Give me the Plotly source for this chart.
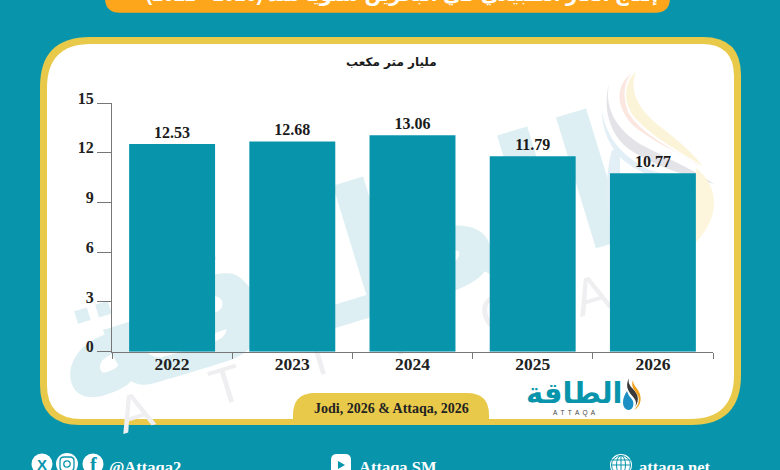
import plotly.graph_objects as go

years = ["2022", "2023", "2024", "2025", "2026"]
values = [12.53, 12.68, 13.06, 11.79, 10.77]
y_ticks = [0, 3, 6, 9, 12, 15]
unit_label = "مليار متر مكعب"
header_text = "إنتاج الغاز الطبيعي في البحرين سنويًا منذ (2026 - 2022)"
source_text = "Jodi, 2026 & Attaqa, 2026"
logo_ar = "الطاقة"
logo_en = "A  T  T  A  Q  A"
wm_letters = ["A", "T", "T", "A", "Q", "A"]
footer_handles = ["@Attaqa2", "Attaqa SM", "attaqa.net"]

TEAL = "#0895AC"
YELLOW = "#E8C94A"
ORANGE = "#FDA61C"
W, H = 780, 470
SERIF = "Liberation Serif"
ARAB = "DejaVu Sans"


def px(x):
    return x / W


def py(y):
    return 1 - y / H


def path(*cmds):
    out = []
    for c in cmds:
        if isinstance(c, str):
            out.append(c)
        else:
            out.append(f"{px(c[0]):.5f},{py(c[1]):.5f}")
    return " ".join(out)


def rrect(x0, y0, x1, y1, tl, tr, br, bl):
    return path("M", (x0 + tl, y0), "L", (x1 - tr, y0), "Q", (x1, y0), (x1, y0 + tr),
                "L", (x1, y1 - br), "Q", (x1, y1), (x1 - br, y1), "L", (x0 + bl, y1),
                "Q", (x0, y1), (x0, y1 - bl), "L", (x0, y0 + tl), "Q", (x0, y0), (x0 + tl, y0), "Z")


def pshape(d, fill, layer="below", line=None, lw=0):
    return dict(type="path", xref="paper", yref="paper", path=d, fillcolor=fill, layer=layer,
                line=dict(color=line or "rgba(0,0,0,0)", width=lw))


def circle(cx, cy, r, fill, line=None, lw=0, layer="above", rx=None):
    rx = r if rx is None else rx
    return dict(type="circle", xref="paper", yref="paper", x0=px(cx - rx), x1=px(cx + rx),
                y0=py(cy + r), y1=py(cy - r), fillcolor=fill, layer=layer,
                line=dict(color=line or "rgba(0,0,0,0)", width=lw))


def label_shape(cx, cy, text, size, color, angle, family, weight=400, half=40, layer="below", pos="middle center"):
    return dict(type="rect", xref="paper", yref="paper", x0=px(cx - half), x1=px(cx + half),
                y0=py(cy + half), y1=py(cy - half), layer=layer, fillcolor="rgba(0,0,0,0)",
                line=dict(width=0),
                label=dict(text=text, textangle=angle, textposition=pos, padding=0,
                           font=dict(size=size, color=color, family=family, weight=weight)))


def edge_text(x, y, text, size, color, family, pos="middle left"):
    cx = x + 60 if pos == "middle left" else x
    return label_shape(cx, y, text, size, color, 0, family, 700, 60, "above", pos)


def note(x, y, text, size, color, family, weight=700, anchor="center"):
    return dict(x=px(x), y=py(y), xref="paper", yref="paper", text=text, showarrow=False,
                xanchor=anchor, yanchor="middle",
                font=dict(size=size, color=color, family=family, weight=weight))


shapes = [
    pshape(rrect(105, -20, 670, 12.7, 0, 0, 15, 15), ORANGE),
    pshape(rrect(40, 37, 741, 425, 50, 38, 50, 40), YELLOW),
    pshape(rrect(47, 44, 734, 419, 44, 32, 44, 34), "#FFFFFF"),
    pshape(rrect(293, 393, 489, 422, 22, 22, 0, 0), YELLOW),
]

# watermark behind the bars
shapes.append(label_shape(332, 250, logo_ar, 180, "#DDEFF3", -17, ARAB, 700, 110))
for (lx, ly), ch in zip([(133, 407), (225, 380), (317, 352), (408, 328), (499, 307), (590, 290)], wm_letters):
    shapes.append(label_shape(lx, ly, ch, 52, "#EFEFF2", -17, "Liberation Sans"))

# pale flame behind the bars
shapes += [
    pshape(path("M", (636, 72), "C", (628, 92), (640, 112), (662, 128), "C", (680, 142), (696, 156), (702, 166),
                "C", (682, 152), (655, 140), (635, 118), "C", (622, 102), (624, 82), (636, 72), "Z"), "#FCF4D8"),
    pshape(path("M", (632, 73), "C", (612, 88), (618, 112), (636, 128), "C", (660, 146), (685, 155), (702, 168),
                "C", (675, 150), (640, 134), (628, 112), "C", (622, 95), (624, 82), (632, 73), "Z"), "#FBE6E0"),
    pshape(path("M", (609, 84), "C", (604, 110), (618, 130), (640, 144), "C", (670, 160), (695, 170), (714, 184),
                "C", (690, 176), (650, 166), (625, 146), "C", (606, 128), (604, 102), (609, 84), "Z"), "#E3E3E8"),
    pshape(path("M", (602, 110), "C", (606, 140), (625, 158), (650, 170), "C", (675, 178), (695, 180), (708, 186),
                "C", (680, 186), (640, 178), (618, 155), "C", (606, 140), (602, 125), (602, 110), "Z"), "#E3EFF6"),
    pshape(path("M", (612, 150), "C", (604, 180), (606, 210), (612, 230), "L", (620, 230), "L", (620, 150), "Z"), "#E3EFF6"),
    pshape(path("M", (696, 168), "C", (718, 185), (722, 215), (696, 242), "Z"), "#FDF6DC"),
]

# small logo flame
shapes += [
    pshape(path("M", (629, 378), "C", (624, 388), (630, 393), (634, 398), "C", (637, 402), (636, 405), (635, 407),
                "C", (640, 400), (638, 394), (633, 389), "C", (629, 385), (628, 382), (629, 378), "Z"), "#3A3A3A", "above"),
    pshape(path("M", (633, 380), "C", (630, 388), (636, 391), (638, 396), "C", (640, 401), (638, 406), (634, 410),
                "C", (642, 406), (642, 396), (638, 390), "C", (635, 386), (633, 384), (633, 380), "Z"), "#F0A21E", "above"),
    pshape(path("M", (627, 391), "C", (622, 398), (621, 408), (628, 410), "C", (634, 410), (635, 402), (631, 398),
                "C", (629, 396), (628, 394), (627, 391), "Z"), "#1C8FC4", "above"),
]

# footer icons
shapes += [
    circle(42, 464, 10.5, "#FFFFFF"),
    circle(67, 464, 11, "#FFFFFF"),
    circle(93, 464, 10.5, "#FFFFFF"),
    pshape(rrect(60, 457, 74, 471, 4, 4, 4, 4), "rgba(0,0,0,0)", "above", TEAL, 1.3),
    circle(67, 464, 3.2, "rgba(0,0,0,0)", TEAL, 1.3),
    pshape(rrect(331, 454, 351, 480, 6, 6, 6, 6), "#FFFFFF", "above"),
    pshape(path("M", (338, 461), "L", (338, 469), "L", (345, 465), "Z"), TEAL, "above"),
    circle(621, 465, 11, "#FFFFFF"),
    circle(621, 465, 9.5, "rgba(0,0,0,0)", TEAL, 1),
    circle(621, 465, 9.5, "rgba(0,0,0,0)", TEAL, 1, rx=4.5),
    pshape(path("M", (611, 460), "L", (631, 460), "M", (611, 465), "L", (631, 465), "M", (621, 455), "L", (621, 475)),
           "rgba(0,0,0,0)", "above", TEAL, 1),
    edge_text(402, -7, header_text, 19.5, "#FFFFFF", "Liberation Sans, DejaVu Sans", "middle center"),
    edge_text(106, 466, footer_handles[0], 16.5, "#FFFFFF", SERIF),
    edge_text(356, 466, footer_handles[1], 16.5, "#FFFFFF", SERIF),
    edge_text(636, 466, footer_handles[2], 16.5, "#FFFFFF", SERIF),
]

annotations = [
    note(391, 62, unit_label, 12, "#1A1A1A", ARAB),
    note(391, 408, source_text, 14, "#222222", SERIF),
    note(574, 393, logo_ar, 29, TEAL, ARAB),
    note(574, 413, logo_en, 6.5, "#444444", "Liberation Sans", 400),
    note(42, 464, "X", 15, TEAL, "Liberation Sans"),
    note(93, 465, "f", 20, TEAL, "Liberation Serif"),
]

fig = go.Figure(go.Bar(
    x=years, y=values, marker=dict(color=TEAL, line=dict(width=0)),
    text=[f"{v:.2f}" for v in values], textposition="outside", cliponaxis=False,
    constraintext="none", textangle=0,
    textfont=dict(size=16, color="#1A1A1A", family=SERIF, weight=700),
    hoverinfo="skip",
))

fig.update_layout(
    width=W, height=H, margin=dict(l=0, r=0, t=0, b=0, pad=0, autoexpand=False), autosize=False,
    paper_bgcolor=TEAL, plot_bgcolor="rgba(0,0,0,0)", showlegend=False, bargap=0.285,
    shapes=shapes, annotations=annotations,
    xaxis=dict(domain=[px(112), px(713)], type="category", range=[-0.5, 4.5],
               tickson="boundaries", ticks="outside", ticklen=6, tickcolor="#777777", tickwidth=1,
               showline=True, linecolor="#777777", linewidth=1, showgrid=False, zeroline=False,
               automargin=False, ticklabelstandoff=-4,
               tickfont=dict(size=17.5, color="#222222", family=SERIF, weight=700)),
    yaxis=dict(domain=[py(351.7), py(103)], range=[0, 15], tickvals=y_ticks,
               ticks="outside", ticklen=14, tickcolor="#777777", tickwidth=1,
               showline=True, linecolor="#777777", linewidth=1, showgrid=False, zeroline=False,
               ticklabelshift=-5, automargin=False,
               tickfont=dict(size=16, color="#222222", family=SERIF, weight=700)),
)

fig.write_html("out.html", config=dict(displayModeBar=False),
               post_script="document.body.style.margin='0';document.body.style.overflow='hidden';document.documentElement.style.overflow='hidden';")
